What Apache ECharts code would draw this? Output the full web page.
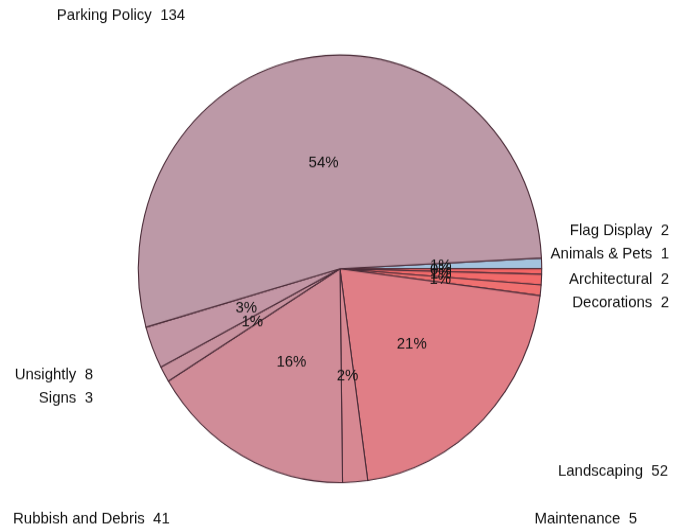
<!DOCTYPE html>
<html>
<head>
<meta charset="utf-8">
<script src="https://cdn.jsdelivr.net/npm/echarts@6/dist/echarts.min.js"></script>
<style>
html,body{margin:0;padding:0;background:#fff;overflow:hidden;}
#chart{width:673px;height:531px;transform:scaleY(1.06);transform-origin:336px 268.8px;}
</style>
</head>
<body>
<div id="chart"></div>
<script>
// Data (clockwise order starting just above 3 o'clock)
const categories = ['Flag Display','Animals & Pets','Architectural','Decorations','Landscaping','Maintenance','Rubbish and Debris','Signs','Unsightly','Parking Policy'];
const values = [2, 1, 2, 2, 52, 5, 41, 3, 8, 134];
const colors = ['#a3c3de','#f46666','#f26a6a','#ef7070','#e07e86','#d78892','#d08c98','#c8929f','#c396a5','#bc99a7'];

// Outer label anchors in page pixels (style only): [x, y, align]
const labelAnchors = {
  'Parking Policy': [121, 15, 'center'],
  'Flag Display': [669, 231, 'right'],
  'Animals & Pets': [669, 254, 'right'],
  'Architectural': [669, 279, 'right'],
  'Decorations': [669, 303, 'right'],
  'Landscaping': [668, 471, 'right'],
  'Maintenance': [637, 519, 'right'],
  'Rubbish and Debris': [13, 519, 'left'],
  'Signs': [93, 398, 'right'],
  'Unsightly': [93, 375, 'right']
};

// geometry / style
const CX = 340, CY = 268.8, R = 201.7, SY = 1.06;
const toCanvasY = y => CY + (y - CY) / SY;

const total = values.reduce((a, b) => a + b, 0);
const startAngle = values[0] / total * 360;
const midAngles = [];
(function () {
  let cum = 0;
  values.forEach(v => { midAngles.push(startAngle - (cum + v / 2) / total * 360); cum += v; });
})();

const pieData = categories.map((c, i) => ({ name: c, value: values[i], itemStyle: { color: colors[i] } }));

const chart = echarts.init(document.getElementById('chart'));
const font = 'Liberation Sans, Arial, sans-serif';
chart.setOption({
  animation: false,
  backgroundColor: '#ffffff',
  series: [
    {
      type: 'pie',
      center: [CX, CY],
      radius: [0, R],
      startAngle: startAngle,
      clockwise: true,
      avoidLabelOverlap: false,
      silent: true,
      itemStyle: { borderColor: '#4c2d39', borderWidth: 1.1 },
      label: {
        show: true,
        position: 'outside',
        fontFamily: font,
        fontSize: 15,
        color: '#141414',
        formatter: p => Math.round(p.value / total * 100) + '%'
      },
      labelLine: { show: false },
      labelLayout: function (params) {
        const a = midAngles[params.dataIndex] * Math.PI / 180;
        return {
          x: CX + R * 0.5 * Math.cos(a),
          y: CY - R * 0.5 * Math.sin(a),
          align: 'center', verticalAlign: 'middle', hideOverlap: false
        };
      },
      data: pieData
    },
    {
      type: 'pie',
      center: [CX, CY],
      radius: [0, R],
      startAngle: startAngle,
      clockwise: true,
      avoidLabelOverlap: false,
      silent: true,
      itemStyle: { color: 'rgba(0,0,0,0)', borderWidth: 0 },
      label: {
        show: true,
        position: 'outside',
        fontFamily: font,
        fontSize: 15,
        color: '#111111',
        formatter: p => p.name + '  ' + p.value
      },
      labelLine: { show: false },
      labelLayout: function (params) {
        const a = labelAnchors[categories[params.dataIndex]];
        return { x: a[0], y: toCanvasY(a[1]), align: a[2], verticalAlign: 'middle', hideOverlap: false };
      },
      data: categories.map((c, i) => ({ name: c, value: values[i] }))
    }
  ]
});
</script>
</body>
</html>
